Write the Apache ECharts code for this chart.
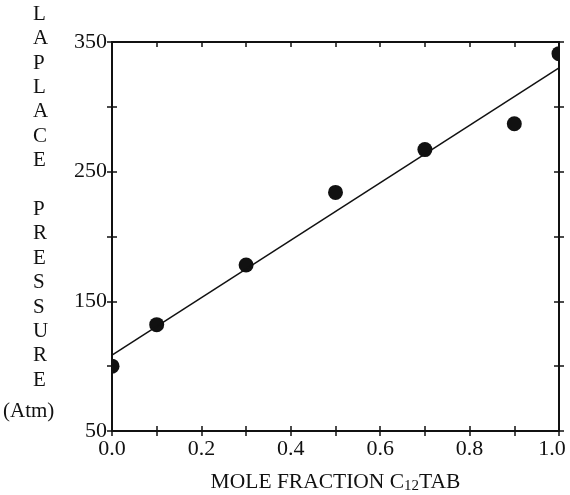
<!DOCTYPE html>
<html>
<head>
<meta charset="UTF-8">
<title>Laplace pressure vs mole fraction</title>
<script src="https://cdn.jsdelivr.net/npm/echarts@6/dist/echarts.min.js"></script>
</head>
<body style="margin:0;background:#fff;">
<div id="main" style="width:570px;height:495px;"></div>
<script type="text/javascript">
    // values
    var moleFraction = [0.0, 0.1, 0.3, 0.5, 0.7, 0.9, 1.0];
    var laplacePressure = [100, 132, 178, 234, 267, 287, 341];
    var fitX = [0.0, 1.0];
    var fitY = [108.6, 330];
    var yLabels = [50, 150, 250, 350];

    var FONT = '"Liberation Serif", "DejaVu Serif", serif';
    var INK = '#111';

    function zip(a, b) {
        return a.map(function (v, i) { return [v, b[i]]; });
    }

    function xAxisBase(pos, inside, showLabel) {
        return {
            type: 'value', position: pos, min: 0, max: 1, interval: 0.1,
            axisLine: { show: true, onZero: false, lineStyle: { color: INK, width: 2 } },
            axisTick: { show: true, inside: inside, length: 5, lineStyle: { color: INK, width: 1.5 } },
            splitLine: { show: false },
            axisLabel: {
                show: showLabel, color: INK, fontFamily: FONT, fontSize: 22, margin: 7,
                formatter: function (v) {
                    var k = Math.round(v * 10);
                    if (k % 2 !== 0) return '';
                    // last label sits a little inside the frame in the original
                    return k === 10 ? '{last|' + v.toFixed(1) + '}' : v.toFixed(1);
                },
                rich: {
                    last: { fontFamily: FONT, fontSize: 22, color: INK, padding: [0, 14, 0, 0] }
                }
            }
        };
    }

    function yAxisBase(pos, inside, showLabel) {
        return {
            type: 'value', position: pos, min: 50, max: 350, interval: 50,
            axisLine: { show: true, onZero: false, lineStyle: { color: INK, width: 2 } },
            axisTick: { show: true, inside: inside, length: 5, lineStyle: { color: INK, width: 1.5 } },
            splitLine: { show: false },
            axisLabel: {
                show: showLabel, color: INK, fontFamily: FONT, fontSize: 22, margin: 5,
                formatter: function (v) {
                    return yLabels.indexOf(v) >= 0 ? String(v) : '';
                }
            }
        };
    }

    var xBottom = xAxisBase('bottom', false, true);
    xBottom.name = 'MOLE FRACTION C{sub|12}TAB';
    xBottom.nameLocation = 'middle';
    xBottom.nameGap = 39;
    xBottom.nameTextStyle = {
        color: INK, fontFamily: FONT, fontSize: 21.5,
        rich: { sub: { fontFamily: FONT, fontSize: 15, color: INK, padding: [9, 0, 0, 0] } }
    };

    var chart = echarts.init(document.getElementById('main'));
    chart.setOption({
        backgroundColor: '#fff',
        animation: false,
        grid: { left: 112, right: 11, top: 42, bottom: 64, containLabel: false, outerBoundsMode: 'none' },
        xAxis: [
            xBottom,
            xAxisBase('bottom', true, false),
            xAxisBase('top', true, false)
        ],
        yAxis: [
            yAxisBase('left', false, true),
            yAxisBase('left', true, false),
            yAxisBase('right', true, false),
            yAxisBase('right', false, false)
        ],
        graphic: [
            {
                type: 'text', left: 33, top: 2,
                style: {
                    text: 'L\nA\nP\nL\nA\nC\nE\n\nP\nR\nE\nS\nS\nU\nR\nE',
                    fontFamily: FONT, fontSize: 21, lineHeight: 24.4,
                    fill: INK, align: 'center'
                }
            },
            {
                type: 'text', left: 3, top: 401,
                style: { text: '(Atm)', fontFamily: FONT, fontSize: 21, fill: INK }
            }
        ],
        series: [
            {
                type: 'line', data: zip(fitX, fitY), showSymbol: false, symbol: 'none',
                lineStyle: { color: INK, width: 1.5 }, silent: true
            },
            {
                // custom dots so the ones on the frame are cut like the original
                type: 'custom', clip: true,
                data: zip(moleFraction, laplacePressure),
                renderItem: function (params, api) {
                    var p = api.coord([api.value(0), api.value(1)]);
                    return {
                        type: 'circle',
                        shape: { cx: p[0], cy: p[1], r: 7.5 },
                        style: { fill: INK }
                    };
                }
            }
        ]
    });
</script>
</body>
</html>
